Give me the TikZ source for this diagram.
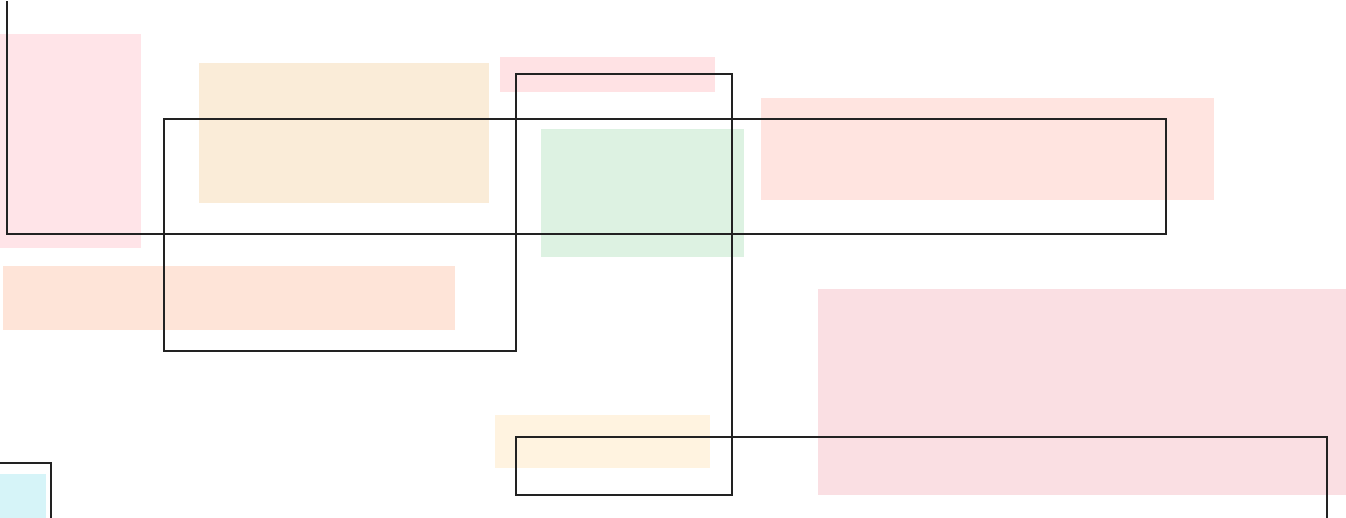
\documentclass[tikz,border=0pt]{standalone}
\definecolor{pinkA}{RGB}{255,228,232}
\definecolor{tanB}{RGB}{250,236,216}
\definecolor{pinkC}{RGB}{255,226,228}
\definecolor{greenD}{RGB}{221,242,226}
\definecolor{salmonE}{RGB}{255,228,224}
\definecolor{peachF}{RGB}{254,228,216}
\definecolor{pinkG}{RGB}{250,223,227}
\definecolor{creamH}{RGB}{255,243,224}
\definecolor{cyanI}{RGB}{214,244,248}
\definecolor{lineK}{RGB}{34,34,34}
\begin{document}
\begin{tikzpicture}[x=1pt,y=-1pt,
  area/.style={draw=none,inner sep=0pt,outer sep=0pt,anchor=north west},
  wire/.style={draw=lineK,line width=2pt,line join=miter}]
\useasboundingbox (0,0) rectangle (1346,517);
\clip (0,0) rectangle (1346,517);
\newcommand{\areabox}[6]{\node[area,fill=#6,minimum width=#4pt,minimum height=#5pt] (#1) at (#2,#3) {};}
\areabox{a1}{0}{34}{141}{214}{pinkA}
\areabox{a2}{199}{63}{290}{140}{tanB}
\areabox{a3}{500}{57}{215}{35}{pinkC}
\areabox{a4}{541}{129}{203}{128}{greenD}
\areabox{a5}{761}{98}{453}{102}{salmonE}
\areabox{a6}{3}{266}{452}{64}{peachF}
\areabox{a7}{818}{289}{528}{206}{pinkG}
\areabox{a8}{495}{415}{215}{53}{creamH}
\areabox{a9}{0}{474}{46}{50}{cyanI}
\coordinate (s) at (7,1);
\coordinate (e) at (1327,530);
\draw[wire] (s) -- (7,234) -- (1166,234) -- (1166,119) -- (164,119) -- (164,351)
  -- (516,351) -- (516,74) -- (732,74) -- (732,495) -- (516,495) -- (516,437)
  -- (1327,437) -- (e);
\draw[wire] (-10,463) -- (51,463) -- (51,530);
\end{tikzpicture}
\end{document}
